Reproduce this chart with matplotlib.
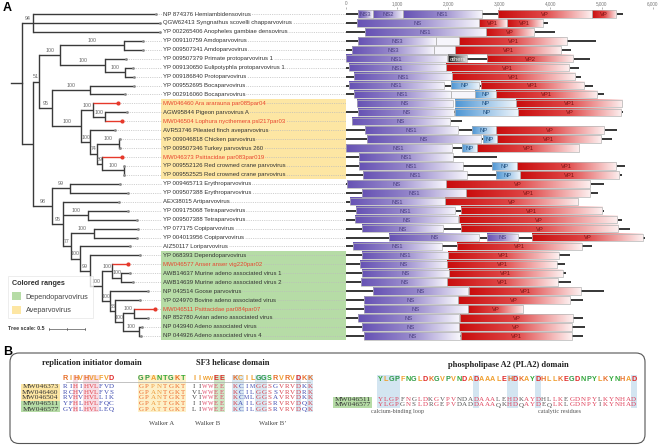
import matplotlib
matplotlib.use("Agg")
import matplotlib.pyplot as plt
import numpy as np
from collections import Counter
from matplotlib.patches import Rectangle, FancyBboxPatch, Patch
from matplotlib.colors import LinearSegmentedColormap

plt.rcParams["font.family"] = ["Liberation Sans", "DejaVu Sans"]

# ---------------- panel A data ----------------
leaf_labels = [
    "NP 874376 Hemiambidensovirus",
    "QGW62413 Syngnathus scovelli chapparvovirus",
    "YP 002265406 Anopheles gambiae densovirus",
    "YP 009110759 Amdoparvovirus",
    "YP 009507341 Amdoparvovirus",
    "YP 009507379 Primate protoparvovirus 1",
    "YP 009130650 Eulipotyphla protoparvovirus 1",
    "YP 009186840 Protoparvovirus",
    "YP 009552695 Bocaparvovirus",
    "YP 002916060 Bocaparvovirus",
    "MW046460 Ara ararauna par085par04",
    "AGW95844 Pigeon parvovirus A",
    "MW046504 Lophura nycthemera psl217par03",
    "AVR53746 Pileated finch aveparvovirus",
    "YP 009046818 Chicken parvovirus",
    "YP 009507346 Turkey parvovirus 260",
    "MW046373 Psittacidae par083par019",
    "YP 009552126 Red crowned crane parvovirus",
    "YP 009552525 Red crowned crane parvovirus",
    "YP 009465713 Erythroparvovirus",
    "YP 009507388 Erythroparvovirus",
    "AEX38015 Artiparvovirus",
    "YP 009175068 Tetraparvovirus",
    "YP 009507388 Tetraparvovirus",
    "YP 077175 Copiparvovirus",
    "YP 004013956 Copiparvovirus",
    "AIZ50117 Loriparvovirus",
    "YP 068393 Dependoparvovirus",
    "MW046577 Anser anser vig220par02",
    "AWB14637 Murine adeno associated virus 1",
    "AWB14639 Murine adeno associated virus 2",
    "NP 043514 Goose parvovirus",
    "YP 024970 Bovine adeno associated virus",
    "MW046511 Psittacidae par084par07",
    "NP 852780 Avian adeno associated virus",
    "NP 043940 Adeno associated virus",
    "NP 044926 Adeno associated virus 4",
]

# tree in newick form, leaves are indices into leaf_labels, inner labels are bootstraps
amdo = "(3:0.264,4:0.264)100:0.889"
proto = "(5:0.292,(6:0.111,7:0.125)100:0.278)100:0.625"
boca = "(8:0.611,9:0.496)100:0.525"
ave_a = "(10:0.342,(11:0.301,12:0.232)100:0.171)100:0.163"
ave_b = ("(13:0.347,((14:0.004,15:0.004)100:0.310,"
         "(16:0.278,(17:0.006,18:0.006)100:0.300)89:0.069)74:0.093)100:0.125")
upper = "((" + amdo + "," + proto + ")100:0.288,(" + boca + ",(" + ave_a + "," + ave_b + ")100:0.408)95:0.174)51:0.088"
erythro = "(19:0.694,20:0.801)99:0.250"
tetra = "(22:0.556,23:0.681)100:0.357"
copi = "(24:0.615,25:0.601)100:0.324"
dep_a = "(28:0.222,(29:0.129,30:0.171)100:0.117)100:0.139"
dep_b = ("(31:0.528,(32:0.347,((33:0.288,34:0.190)100:0.161,"
         "(35:0.038,36:0.024)100:0.231)100:0.107)88:0.069)100:0.107")
lori = "(26:0.694,(27:0.694,(" + dep_a + "," + dep_b + ")100:0.171)99:0.139)100:0.129"
lower = "(" + erythro + ",(21:0.782," + tetra + ",(" + copi + "," + lori + ")77:0.111)95:0.149)98:0.264"
newick = "((0:1.708,1:1.764,2:1.764)94:0.153,(" + upper + "," + lower + "):0.153);"

ave_rows = (10, 18)
dep_rows = (27, 36)

# genome length line (nt) and gene boxes per leaf: (start, end, label, kind)
genome_span = [
    (0, 5427), (0, 3961), (0, 4091), (0, 4886), (0, 4398), (0, 4776), (0, 4567),
    (0, 4593), (0, 4841), (0, 5049), None, (0, 5427), (117, 2267), (0, 5310),
    (0, 5199), (0, 4567), (0, 2951), (0, 5459), (0, 5394), (0, 5049), (0, 4938),
    (0, 4547), (0, 5049), (0, 5394), (0, 5557), (0, 5850), (0, 4808), (0, 4385),
    (0, 4287), (0, 4300), (0, 4398), (0, 5056), (0, 4645), (0, 365), (0, 4645),
    (0, 4671), (0, 4645),
]
genes = [
    [(248, 528, "NS3", "ns"), (528, 1127, "NS2", "ns"), (1127, 2658, "NS1", "ns"),
     (2971, 4808, "VP", "vp"), (4808, 5284, "VP", "vp")],
    [(215, 2606, "NS", "ns"), (2606, 3147, "VP1", "vp"), (3147, 3850, "VP1", "vp")],
    [(378, 2736, "NS1", "ns"), (2736, 3687, "VP", "vp")],
    [(248, 1766, "NS3", "ns"), (1766, 2222, "", "blank"), (2222, 4319, "VP1", "vp")],
    [(117, 1726, "NS3", "ns"), (1726, 2137, "", "blank"), (2137, 4209, "VP1", "vp")],
    [(0, 1987, "NS1", "ns"), (2007, 2378, "others", "oth"), (2756, 4450, "VP2", "vp")],
    [(65, 1954, "NS1", "ns"), (1954, 4372, "VP1", "vp")],
    [(163, 2085, "NS1", "ns"), (2085, 4489, "VP1", "vp")],
    [(65, 1922, "NS1", "ns"), (2052, 2613, "NP", "np"), (2639, 4658, "VP1", "vp")],
    [(163, 2052, "NS1", "ns"), (2052, 2528, "", "blank"), (2528, 2932, "NP", "np"),
     (2932, 4906, "VP1", "vp")],
    [(215, 2104, "NS", "ns"), (2130, 3323, "NP", "np"), (3323, 5407, "VP1", "vp")],
    [(248, 2117, "NS", "ns"), (2130, 3362, "NP", "np"), (3362, 5381, "VP", "vp")],
    [(117, 2039, "NS", "ns")],
    [(378, 2202, "NS1", "ns"), (2476, 2932, "NP", "np"), (2932, 5049, "VP", "vp")],
    [(410, 2645, "NS", "ns"), (2678, 2951, "NP", "np"), (2951, 4984, "VP1", "vp")],
    [(0, 2072, "NS1", "ns"), (2267, 2560, "NP", "np"), (2560, 4567, "VP1", "vp")],
    [(267, 2104, "NS1", "ns")],
    [(267, 2287, "NS1", "ns"), (2867, 3342, "NP", "np"), (3342, 5284, "VP1", "vp")],
    [(345, 2365, "NS1", "ns"), (2932, 3407, "NP", "np"), (3407, 5349, "VP1", "vp")],
    [(33, 1961, "NS", "ns"), (1961, 4776, "VP", "vp")],
    [(313, 2352, "NS1", "ns"), (2352, 4776, "VP1", "vp")],
    [(85, 1941, "NS1", "ns"), (1941, 4547, "VP", "vp")],
    [(195, 2137, "NS1", "ns"), (2248, 5017, "VP1", "vp")],
    [(182, 2202, "NS", "ns"), (2222, 5310, "VP", "vp")],
    [(313, 1909, "NS", "ns"), (2248, 5329, "VP", "vp")],
    [(847, 2613, "NS", "ns"), (2769, 3375, "NS", "ns"), (3642, 5805, "VP", "vp")],
    [(150, 1876, "NS1", "ns"), (2170, 4612, "VP1", "vp")],
    [(326, 2007, "NS1", "ns"), (2007, 4176, "VP1", "vp")],
    [(280, 1987, "NS", "ns"), (1987, 4124, "VP1", "vp")],
    [(313, 2013, "NS", "ns"), (2013, 4241, "VP1", "vp")],
    [(300, 1987, "NS", "ns"), (1987, 4144, "VP1", "vp")],
    [(541, 2398, "NS", "ns"), (2417, 4593, "VP1", "vp")],
    [(365, 2189, "NS", "ns"), (2189, 4385, "VP", "vp")],
    [(365, 2385, "NS", "ns"), (2385, 3472, "VP", "vp")],
    [(248, 2222, "NS", "ns"), (2235, 4437, "VP", "vp")],
    [(313, 2222, "NS", "ns"), (2222, 4430, "VP", "vp")],
    [(365, 2235, "NS", "ns"), (2248, 4417, "VP1", "vp")],
]
genome_ticks = [0, 1000, 2000, 3000, 4000, 5000, 6000]

# ---------------- panel B data ----------------
rep_ids = ["MW046373", "MW046460", "MW046504", "MW046511", "MW046577"]
rep_groups = ["ave", "ave", "ave", "dep", "dep"]
rep_seqs = ["RIHIHVLFVD", "RCHVHVLFVS", "RVHVHVLLIK", "YFHLHVLFQC", "GYHLHVLLEQ"]
walker_a = ["GPPNTGKT", "GPANTGKT", "GPANTGKT", "GPATTGKT", "GPATTGKT"]
walker_b = ["IIWWEE", "VLWWEE", "VIWWEE", "IIWWEE", "LIWWEE"]
walker_b2 = ["KCIMGGSGVRVDKK", "KCILGGSSVRVDRK", "KCMLGGSAVRVDKK",
             "KAILGGSRVRVDQK", "KCILGGSRVRVDQK"]
pla2_ids = ["MW046511", "MW046577"]
pla2_groups = ["dep", "dep"]
pla2_seqs = ["YLGPFNGLDKGVPVNDADAAALEHDKAYDHLLKEGDNPYLKYNHAD",
             "YLGPGNSLDRGEPVDADDAAAQKHDQAYDEQLKLGDNPYIKYNHAD"]
rep_hl = [2, 4, 5, 6]
wa_hl = list(range(8))
wb_hl = [4, 5]
wb2_hl = [0, 1, 4, 5, 11, 13]
pla2_hl = [0, 1, 2, 3, 17, 23, 24, 28, 45]

# ---------------- helpers ----------------
W, H = 658, 446
PX_PER_UNIT = 72.0
ROOT_PX = 22.0
ROW0_PX, ROW_PX = 14.0, 8.94

YELLOW = "#fde6a3"
GREEN = "#b6dca6"
BRANCH = "#3a3a3a"
RED = "#e6392b"


def px_axes(fig, x0, y0, x1, y1):
    return fig.add_axes([x0 / W, 1 - y1 / H, (x1 - x0) / W, (y1 - y0) / H])


def parse_newick(s):
    pos = 0

    def node():
        nonlocal pos
        n = {"children": [], "name": "", "length": 0.0}
        if s[pos] == "(":
            pos += 1
            while True:
                n["children"].append(node())
                ch = s[pos]
                pos += 1
                if ch == ")":
                    break
        start = pos
        while s[pos] not in ":,);":
            pos += 1
        n["name"] = s[start:pos]
        if s[pos] == ":":
            pos += 1
            start = pos
            while s[pos] not in ",);":
                pos += 1
            n["length"] = float(s[start:pos])
        return n

    return node()


def layout(n, x=0.0):
    n["x"] = x
    if not n["children"]:
        n["y"] = int(n["name"])
        return
    for c in n["children"]:
        layout(c, x + c["length"])
    n["y"] = (n["children"][0]["y"] + n["children"][-1]["y"]) / 2


def draw_tree(ax, n, tips):
    if not n["children"]:
        tips.append((int(n["name"]), n["x"]))
        return
    ys = [c["y"] for c in n["children"]]
    ax.plot([n["x"], n["x"]], [min(ys), max(ys)], color=BRANCH, lw=1.0,
            solid_capstyle="projecting", zorder=3)
    for c in n["children"]:
        is_new = not c["children"] and leaf_labels[int(c["name"])].startswith("MW")
        ax.plot([n["x"], c["x"]], [c["y"], c["y"]], color=RED if is_new else BRANCH,
                lw=1.0, solid_capstyle="butt", zorder=3)
        if c["children"] and c["name"]:
            ax.text((n["x"] + c["x"]) / 2, c["y"] - 0.25, c["name"], fontsize=3.8,
                    color="#666666", ha="center", va="bottom", zorder=4)
        draw_tree(ax, c, tips)


fig = plt.figure(figsize=(W / 100, H / 100), dpi=100)

# ---------------- tree ----------------
ax_t = px_axes(fig, 0, 9, 346, 346)
tree = parse_newick(newick)
layout(tree)
tips = []
draw_tree(ax_t, tree, tips)
stub = 0.153
ax_t.plot([-stub, 0], [tree["y"], tree["y"]], color=BRANCH, lw=1.0, zorder=3)

x_end = (346 - ROOT_PX) / PX_PER_UNIT
x_lab = (163 - ROOT_PX) / PX_PER_UNIT
x_hl = (161 - ROOT_PX) / PX_PER_UNIT
for (r0, r1), col in [(ave_rows, YELLOW), (dep_rows, GREEN)]:
    ax_t.add_patch(Rectangle((x_hl, r0 - 0.5), x_end - x_hl, r1 - r0 + 1,
                             facecolor=col, edgecolor="none", zorder=0))

for i, xt in tips:
    new = leaf_labels[i].startswith("MW")
    if ave_rows[0] <= i <= ave_rows[1]:
        bg = YELLOW
    elif dep_rows[0] <= i <= dep_rows[1]:
        bg = GREEN
    else:
        bg = "white"
    ax_t.plot([xt, x_end], [i, i], ls=(0, (1.6, 1.6)), color="#bcbcbc", lw=0.5, zorder=1)
    ax_t.scatter([xt], [i], s=9 if new else 4, color=RED if new else "#8c8c8c",
                 zorder=5, linewidths=0)
    ax_t.text(x_lab, i, leaf_labels[i], fontsize=4.3, va="center", ha="left",
              color="#e8452f" if new else "#333333", zorder=4,
              bbox=dict(boxstyle="square,pad=0.12", fc=bg, ec="none"))

# tree scale bar
sb_x0 = (49 - ROOT_PX) / PX_PER_UNIT
sb_y = (329 - ROW0_PX) / ROW_PX
ax_t.plot([sb_x0, sb_x0 + 0.5], [sb_y, sb_y], color="#555555", lw=0.5)
for xx in (sb_x0, sb_x0 + 0.25, sb_x0 + 0.5):
    ax_t.plot([xx, xx], [sb_y - 0.15, sb_y + 0.15], color="#555555", lw=0.5)
ax_t.text(sb_x0 - 0.06, sb_y, "Tree scale: 0.5", fontsize=3.8, fontweight="bold",
          color="#333333", ha="right", va="center")

ylim = ((346 - ROW0_PX) / ROW_PX, (9 - ROW0_PX) / ROW_PX)
ax_t.set_xlim(-ROOT_PX / PX_PER_UNIT, x_end)
ax_t.set_ylim(*ylim)
ax_t.axis("off")

leg = fig.legend(
    handles=[Patch(facecolor=GREEN, edgecolor="none", label="Dependoparvovirus"),
             Patch(facecolor=YELLOW, edgecolor="none", label="Aveparvovirus")],
    title="Colored ranges", loc="lower left", bbox_to_anchor=(4 / W, 1 - 322 / H),
    fontsize=5.2, title_fontsize=5.2, frameon=True, fancybox=False,
    handlelength=1.3, handleheight=1.3, borderpad=0.6, labelspacing=0.7,
    handletextpad=0.6, alignment="left")
leg.get_frame().set_edgecolor("#e0e0e0")
leg.get_frame().set_linewidth(0.5)
leg.get_title().set_fontweight("bold")
leg.get_title().set_color("#333333")
for t in leg.get_texts():
    t.set_color("#444444")

# ---------------- genome maps ----------------
ax_g = px_axes(fig, 345.7, 9, 652.7, 346)
cmaps = {
    "ns": LinearSegmentedColormap.from_list("ns", ["#6652b4", "#9a8ccd", "#f7f6fc"]),
    "vp": LinearSegmentedColormap.from_list("vp", ["#c90d0d", "#e04848", "#fdf0f0"]),
    "np": LinearSegmentedColormap.from_list("np", ["#4c95d4", "#f1f7fc"]),
    "oth": LinearSegmentedColormap.from_list("oth", ["#111111", "#d8d8d8"]),
}
txt_col = {"ns": "#4a3f80", "vp": "#7c1515", "np": "#1f4f80", "oth": "#eeeeee"}
grad = np.linspace(0, 1, 128).reshape(1, -1)
box_h = 0.84
for i, (span, row) in enumerate(zip(genome_span, genes)):
    if span:
        ax_g.plot(span, [i, i], color="black", lw=1.1, solid_capstyle="butt", zorder=1)
    for s, e, lab, kind in row:
        if kind == "blank":
            ax_g.add_patch(Rectangle((s, i - box_h / 2), e - s, box_h,
                                     facecolor="#f6f5fb", edgecolor="none", zorder=2))
        else:
            ax_g.imshow(grad, cmap=cmaps[kind], aspect="auto", interpolation="bilinear",
                        extent=(s, e, i + box_h / 2, i - box_h / 2), zorder=2)
        ax_g.add_patch(Rectangle((s, i - box_h / 2), e - s, box_h, fill=False,
                                 edgecolor="#b4b4b4", lw=0.5, zorder=3))
        if lab:
            ax_g.text((s + e) / 2, i + 0.05, lab, fontsize=4.2, ha="center", va="center",
                      color=txt_col[kind], zorder=4)
ax_g.set_xlim(0, 6000)
ax_g.set_ylim(*ylim)
ax_g.set_aspect("auto")
ax_g.xaxis.tick_top()
ax_g.set_xticks(genome_ticks)
ax_g.set_xticklabels([f"{t:,}" for t in genome_ticks])
ax_g.tick_params(axis="x", labelsize=3.3, colors="#777777", length=1.5, width=0.4, pad=0.6)
ax_g.set_yticks([])
for sp in ax_g.spines.values():
    sp.set_visible(False)

fig.text(3 / W, 1 - 2 / H, "A", fontsize=9, fontweight="bold", va="top", ha="left")

# ---------------- panel B ----------------
ax_b = px_axes(fig, 0, 346, 658, 446)
ax_b.set_xlim(0, 658)
ax_b.set_ylim(446, 346)
ax_b.axis("off")
fig.text(3 / W, 1 - 346 / H, "B", fontsize=9, fontweight="bold", va="top", ha="left")

ax_b.add_patch(FancyBboxPatch((10, 353), 635, 90.5, boxstyle="round,pad=0,rounding_size=9",
                              fill=False, edgecolor="#555555", lw=0.8))

SERIF = ["Liberation Serif", "DejaVu Serif"]
group_bg = {"ave": YELLOW, "dep": GREEN}
chem = {}
for aa in "AVLIMFWC":
    chem[aa] = "#f0a030"
for aa in "GP":
    chem[aa] = "#2f9a48"
for aa in "STNQY":
    chem[aa] = "#30a838"
for aa in "KRH":
    chem[aa] = "#e8702a"
for aa in "DE":
    chem[aa] = "#e02828"


def draw_ids(ids, groups, x0, x1, ys):
    for name, g, y in zip(ids, groups, ys):
        ax_b.add_patch(Rectangle((x0, y - 2.8), x1 - x0, 5.6, facecolor=group_bg[g],
                                 edgecolor="none", zorder=0))
        ax_b.text((x0 + x1) / 2, y, name, fontsize=5.4, family=SERIF, ha="center",
                  va="center", color="#333333")


def draw_block(seqs, x0, step, ys, logo_y, hl, hl_col, cons_col, var_col):
    top = logo_y - 4
    bottom = ys[-1] + 2.8
    for j in hl:
        ax_b.add_patch(Rectangle((x0 + j * step - step / 2, top), step, bottom - top,
                                 facecolor=hl_col, edgecolor="none", zorder=0))
    cols = list(zip(*seqs))
    logo = [Counter(c).most_common(1)[0][0] for c in cols]
    for j, ch in enumerate(logo):
        ax_b.text(x0 + j * step, logo_y, ch, fontsize=3.9 if ch in "MW" else 5.2,
                  fontweight="bold", ha="center", va="center",
                  color=chem.get(ch, "#555555"))
    for seq, y in zip(seqs, ys):
        for j, ch in enumerate(seq):
            same = all(c == ch for c in cols[j])
            ax_b.text(x0 + j * step, y, ch, fontsize=4.2 if ch in "MW" else 5.0,
                      family=SERIF, ha="center", va="center",
                      color=cons_col if same else var_col)
    return x0 + (len(seqs[0]) - 1) * step / 2


row_ys = [386.7 + k * 5.6 for k in range(len(rep_ids))]
draw_ids(rep_ids, rep_groups, 21, 60, row_ys)
draw_block(rep_seqs, 65.5, 5.1, row_ys, 379, rep_hl, "#f8dde4", "#e0404a", "#3f4cb0")
wa_c = draw_block(walker_a, 141, 6.0, row_ys, 379, wa_hl, "#fdf0c8", "#ee6a2c", "#ee9a3c")
wb_c = draw_block(walker_b, 194, 5.6, row_ys, 379, wb_hl, "#cfe7c6", "#e04a6a", "#444444")
wb2_c = draw_block(walker_b2, 235, 5.77, row_ys, 379, wb2_hl, "#d8e7f2", "#d8404c", "#3f4cb0")
ax_b.plot([65.5, 235 + 13 * 5.77], [381.6, 381.6], color="#aaaaaa", lw=0.5, zorder=5)

for label, xc in [("Walker A", wa_c), ("Walker B", wb_c), ("Walker B\u2019", wb2_c)]:
    ax_b.text(xc, 423.3, label, fontsize=4.8, family=SERIF, ha="center", va="center",
              color="#444444")
ax_b.text(92, 363.3, "replication initiator domain", fontsize=6, fontweight="bold",
          family=SERIF, ha="center", va="center", color="#222222")
ax_b.text(233, 363.3, "SF3 helicase domain", fontsize=6, fontweight="bold",
          family=SERIF, ha="center", va="center", color="#222222")

pla2_ys = [399.3, 405.0]
draw_ids(pla2_ids, pla2_groups, 333, 372, pla2_ys)
draw_block(pla2_seqs, 380, 5.64, pla2_ys, 379.3, pla2_hl, "#d3e5f1", "#e0405a", "#555555")
ax_b.text(508, 365, "phospholipase A2 (PLA2) domain", fontsize=6, fontweight="bold",
          family=SERIF, ha="center", va="center", color="#222222")
ax_b.text(398, 411, "calcium-binding loop", fontsize=4.4, family=SERIF, ha="center",
          va="center", color="#555555")
ax_b.text(560, 411, "catalytic residues", fontsize=4.4, family=SERIF, ha="center",
          va="center", color="#555555")

fig.savefig("out.png", dpi=100)
